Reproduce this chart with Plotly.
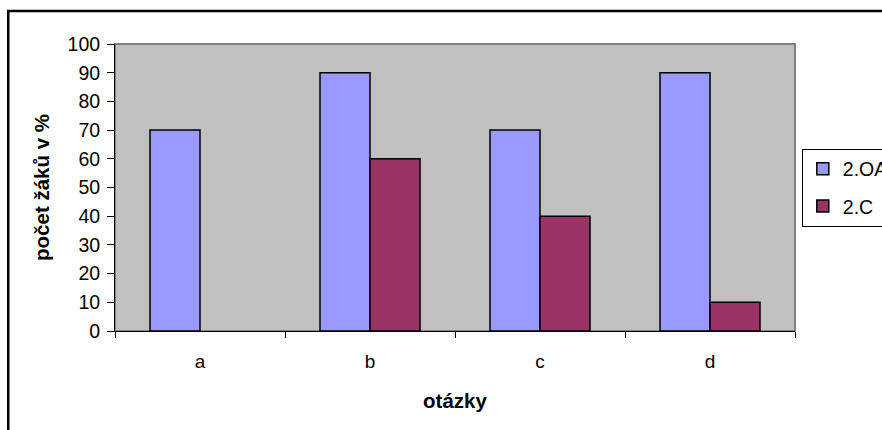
import plotly.graph_objects as go

categories = ["a", "b", "c", "d"]
oa_values = [70, 90, 70, 90]
c_values = [None, 60, 40, 10]
series_names = ["2.OA", "2.C"]
y_ticks = [0, 10, 20, 30, 40, 50, 60, 70, 80, 90, 100]

FONT = "Arial, Liberation Sans, sans-serif"

fig = go.Figure()
fig.add_trace(go.Bar(
    x=categories, y=oa_values, name=series_names[0], legendgroup="g1",
    marker=dict(color="#9999FF", line=dict(color="#000000", width=1.5)),
))
fig.add_trace(go.Bar(
    x=categories, y=c_values, name=series_names[1], legendgroup="g2",
    marker=dict(color="#993366", line=dict(color="#000000", width=1.5)),
))

fig.update_layout(
    width=882, height=430,
    margin=dict(l=115, r=87, t=44, b=99, autoexpand=False),
    paper_bgcolor="white",
    plot_bgcolor="#C0C0C0",
    font=dict(family=FONT, size=19, color="black"),
    barmode="group",
    bargap=0.4118,
    bargroupgap=0,
    showlegend=True,
    legend=dict(
        x=1.01, xanchor="left", y=0.5, yanchor="middle",
        bgcolor="white", bordercolor="black", borderwidth=1,
        font=dict(family=FONT, size=19.5, color="black"),
        traceorder="grouped", tracegroupgap=9,
    ),
    xaxis=dict(
        type="category",
        showgrid=False, zeroline=False,
        showline=True, linecolor="black", linewidth=1,
        ticks="outside", tickson="boundaries", ticklen=6, tickcolor="black",
        ticklabelstandoff=13,
        tickfont=dict(family=FONT, size=19),
        title=dict(text="<b>otázky</b>", font=dict(family=FONT, size=20.5), standoff=22),
    ),
    yaxis=dict(
        range=[0, 100], tickvals=y_ticks,
        showgrid=False, zeroline=False,
        showline=True, linecolor="black", linewidth=1,
        ticks="outside", ticklen=7, tickcolor="black",
        ticklabelstandoff=3,
        tickfont=dict(family=FONT, size=19.5),
        title=dict(text="<b>počet žáků v %</b>", font=dict(family=FONT, size=20.5), standoff=12),
    ),
    shapes=[
        dict(type="rect", xref="paper", yref="paper", x0=0, x1=1, y0=0, y1=1,
             line=dict(color="#808080", width=2), fillcolor="rgba(0,0,0,0)", layer="below"),
        dict(type="rect", xref="paper", yref="paper", x0=-0.157, x1=1.4, y0=-0.5, y1=1.115,
             line=dict(color="black", width=2.5), fillcolor="rgba(0,0,0,0)", layer="below"),
    ],
)

fig.write_html("out.html")
